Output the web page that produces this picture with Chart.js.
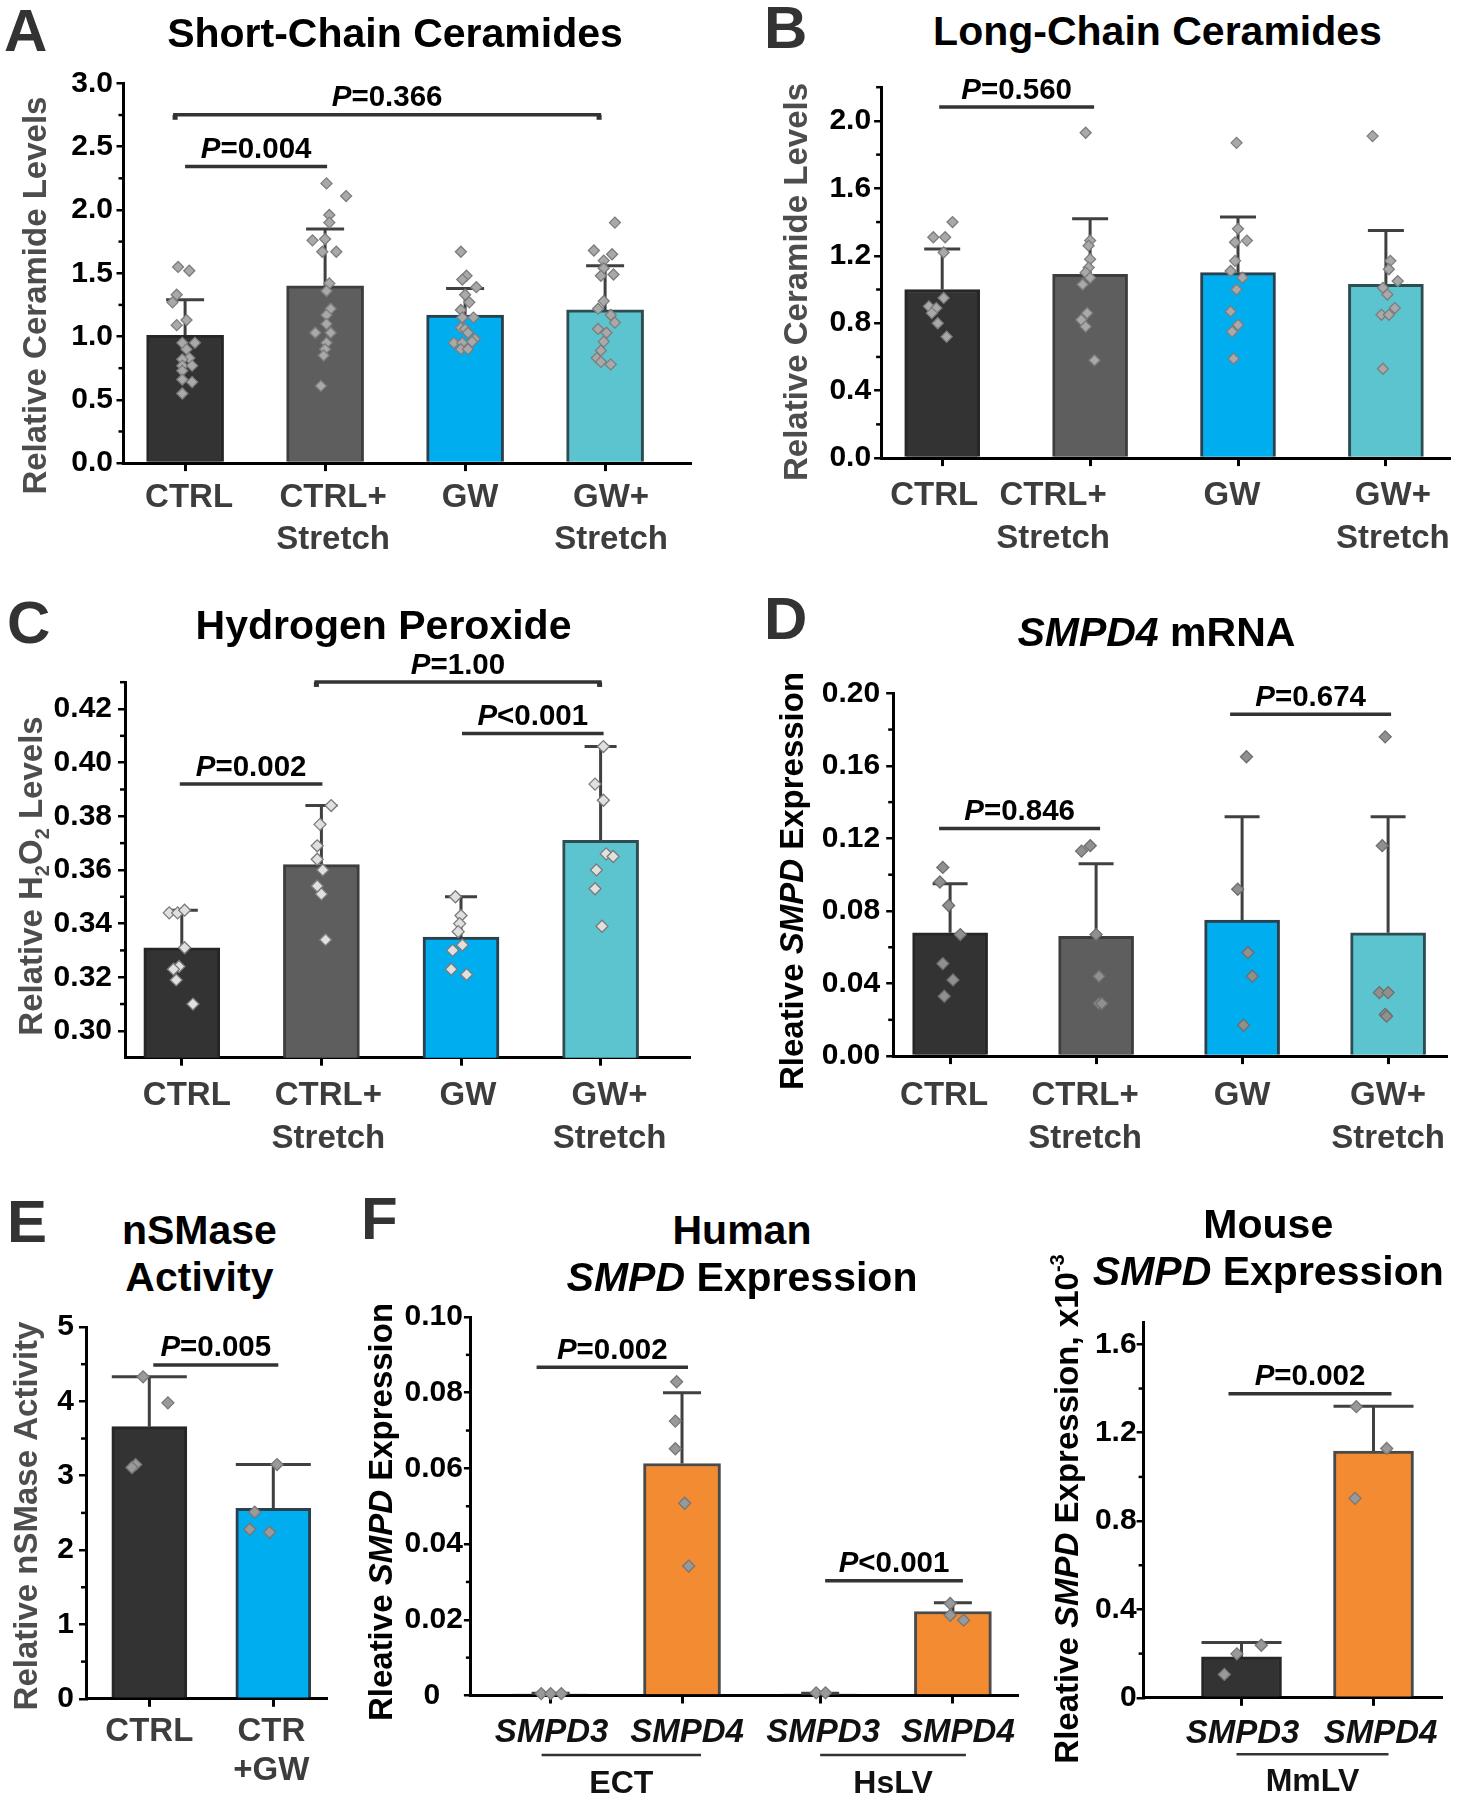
<!DOCTYPE html>
<html><head><meta charset="utf-8"><title>Ceramides, H2O2 and SMPD expression</title>
<script src="https://cdn.jsdelivr.net/npm/chart.js@4.4.1/dist/chart.umd.min.js"></script>
<style>
html,body{margin:0;padding:0;background:#fff;}
#page{position:relative;width:1462px;height:1800px;overflow:hidden;background:#fff;font-family:'Liberation Sans',Arial,Helvetica,sans-serif;}
#page canvas{position:absolute;}
.ttl{position:absolute;font-weight:bold;font-size:41px;line-height:41px;white-space:nowrap;color:#000;transform:translateX(-50%);}
.lett{position:absolute;font-weight:bold;font-size:60px;line-height:60px;color:#333;}
</style></head>
<body><div id="page"></div>
<script>
// ================= DATA =================
// Panel A - Short-chain ceramides
const catsA = [['CTRL'], ['CTRL+','Stretch'], ['GW'], ['GW+','Stretch']];
const meanA = [1.01, 1.40, 1.17, 1.21];
const errA  = [1.29, 1.85, 1.38, 1.56];
const ptsA = [
  [1.55,1.52,1.33,1.27,1.13,1.09,0.95,0.95,0.90,0.83,0.82,0.77,0.77,0.73,0.66,0.64,0.55],
  [2.21,2.11,1.96,1.90,1.76,1.77,1.67,1.67,1.42,1.36,1.22,1.17,1.10,1.03,1.03,0.95,0.90,0.85,0.61],
  [1.67,1.48,1.45,1.39,1.33,1.27,1.21,1.15,1.15,1.07,1.06,1.03,0.98,0.95,0.95,0.96,0.90,0.90],
  [1.90,1.68,1.65,1.60,1.54,1.49,1.48,1.28,1.22,1.17,1.11,1.06,1.03,0.96,0.89,0.83,0.80,0.78]
];
const jitA = [
  [-0.05,0.03,-0.06,-0.09,0.01,-0.06,-0.02,0.07,0.01,0.03,-0.02,-0.02,0.05,-0.02,-0.02,0.05,-0.02],
  [0.01,0.15,0.03,0.03,-0.09,0,-0.02,0.08,0.03,0.01,0.04,0.01,0.01,-0.07,0.04,0.01,0,-0.01,-0.03],
  [-0.03,0.01,-0.02,0.08,0,0.03,-0.03,0.06,-0.02,-0.03,0,0.02,0.07,-0.08,-0.02,0.05,-0.03,0.02],
  [0.07,-0.08,0.05,-0.01,-0.01,0.06,-0.03,-0.01,-0.05,0.04,0.07,-0.05,0.01,-0.01,-0.03,-0.06,-0.03,0.04]
];
const ticksA = [0,0.5,1,1.5,2,2.5,3];
const tickLabA = ['0.0','0.5','1.0','1.5','2.0','2.5','3.0'];
const pA = [{i:0,j:1,y:2.343,p:'=0.004'},{i:0,j:3,y:2.752,p:'=0.366',ends:true}];

// Panel B - Long-chain ceramides
const catsB = catsA;
const meanB = [1.00, 1.09, 1.10, 1.03];
const errB  = [1.24, 1.42, 1.43, 1.35];
const ptsB = [
  [1.40,1.31,1.31,1.22,0.95,0.90,0.89,0.86,0.80,0.72],
  [1.93,1.29,1.26,1.18,1.13,1.10,1.07,1.03,0.86,0.82,0.78,0.58],
  [1.87,1.36,1.28,1.29,1.17,1.11,1.07,1.00,0.87,0.79,0.75,0.59],
  [1.91,1.17,1.12,1.05,1.01,0.97,0.89,0.85,0.85,0.53]
];
const jitB = [
  [0.07,-0.06,0.02,0.01,0.01,-0.09,-0.04,-0.07,-0.03,0.03],
  [-0.03,0,-0.01,0,-0.01,-0.03,0,-0.05,-0.02,-0.06,-0.03,0.03],
  [-0.01,0,-0.02,0.06,-0.02,-0.05,0.03,-0.01,-0.05,0,-0.04,-0.03],
  [-0.09,0.03,0.02,0.08,-0.02,0.01,0.06,-0.03,0.02,-0.02]
];
const ticksB = [0,0.4,0.8,1.2,1.6,2.0];
const tickLabB = ['0.0','0.4','0.8','1.2','1.6','2.0'];
const pB = [{i:0,j:1,y:2.082,p:'=0.560'}];

// Panel C - Hydrogen peroxide
const catsC = catsA;
const meanC = [0.331, 0.362, 0.335, 0.371];
const errC  = [0.345, 0.384, 0.350, 0.406];
const ptsC = [
  [0.344,0.344,0.345,0.331,0.324,0.323,0.319,0.310],
  [0.384,0.377,0.369,0.364,0.360,0.354,0.351,0.334],
  [0.350,0.343,0.340,0.337,0.332,0.330,0.323,0.321],
  [0.406,0.392,0.386,0.366,0.365,0.360,0.353,0.339]
];
const jitC = [
  [-0.09,-0.03,0.02,0.02,-0.02,-0.06,-0.04,0.08],
  [0.07,-0.01,-0.03,-0.03,0.01,-0.03,0,0.03],
  [-0.04,0,-0.01,-0.02,0.01,-0.06,-0.07,0.04],
  [0.02,-0.04,0.02,0.04,0.09,-0.03,-0.04,0.01]
];
const ticksC = [0.30,0.32,0.34,0.36,0.38,0.40,0.42];
const tickLabC = ['0.30','0.32','0.34','0.36','0.38','0.40','0.42'];
const pC = [{i:0,j:1,y:0.392,p:'=0.002'},{i:1,j:3,y:0.4301,p:'=1.00',ends:true},{i:2,j:3,y:0.4109,p:'<0.001'}];

// Panel D - SMPD4 mRNA
const catsD = catsA;
const meanD = [0.068, 0.066, 0.075, 0.068];
const errD  = [0.095, 0.106, 0.132, 0.132];
const ptsD = [
  [0.104,0.096,0.083,0.067,0.051,0.042,0.033],
  [0.113,0.116,0.067,0.044,0.029,0.029],
  [0.165,0.092,0.057,0.044,0.017],
  [0.176,0.116,0.035,0.035,0.023,0.022]
];
const jitD = [
  [-0.05,-0.07,-0.01,0.07,-0.05,0.02,-0.04],
  [-0.10,-0.04,0,0.02,0.02,0.04],
  [0.03,-0.03,0.04,0.07,0.01],
  [-0.02,-0.04,-0.06,0,-0.02,-0.01]
];
const ticksD = [0,0.04,0.08,0.12,0.16,0.20];
const tickLabD = ['0.00','0.04','0.08','0.12','0.16','0.20'];
const pD = [{i:0,j:1,y:0.1255,p:'=0.846'},{i:2,j:3,y:0.1884,p:'=0.674'}];

// Panel E - nSMase activity
const catsE = [['CTRL'], ['CTR','+GW']];
const meanE = [3.66, 2.56];
const errE  = [4.33, 3.15];
const ptsE = [[4.33,3.98,3.15,3.11],[3.15,2.51,2.28,2.24]];
const jitE = [[-0.05,0.15,-0.11,-0.14],[0.03,-0.15,-0.19,-0.03]];
const ticksE = [0,1,2,3,4,5];
const tickLabE = ['0','1','2','3','4','5'];
const pE = [{i:0,j:1,y:4.49,p:'=0.005'}];

// Panel F - Human SMPD expression
const catsF = [['SMPD3'],['SMPD4'],['SMPD3'],['SMPD4']];
const groupsF = [{i:0,j:1,text:'ECT'},{i:2,j:3,text:'HsLV'}];
const meanF = [0.0004, 0.0613, 0.0004, 0.0222];
const errF  = [0.0006, 0.0800, 0.0006, 0.0245];
const ptsF = [[0.0005,0.0005,0.0005],[0.0829,0.0725,0.0652,0.0508,0.0342],[0.0007,0.0007],[0.0243,0.0212,0.0199]];
const jitF = [[-0.07,0,0.08],[-0.04,-0.05,-0.05,0.02,0.05],[-0.03,0.04],[-0.02,-0.02,0.08]];
const ticksF = [0,0.02,0.04,0.06,0.08,0.10];
const tickLabF = ['0\u2007\u2009','0.02','0.04','0.06','0.08','0.10'];
const pF = [{i:0,j:1,y:0.0867,p:'=0.002'},{i:2,j:3,y:0.0303,p:'<0.001'}];

// Panel F - Mouse SMPD expression (x10^-3)
const catsM = [['SMPD3'],['SMPD4']];
const groupsM = [{i:0,j:1,text:'MmLV'}];
const meanM = [0.185, 1.117];
const errM  = [0.25, 1.32];
const ptsM = [[0.106,0.199,0.238],[1.318,1.129,0.903]];
const jitM = [[-0.13,-0.035,0.15],[-0.13,0.10,-0.14]];
const ticksM = [0,0.4,0.8,1.2,1.6];
const tickLabM = ['0','0.4','0.8','1.2','1.6'];
const pM = [{i:0,j:1,y:1.376,p:'=0.002'}];

// ================= STYLE / LAYOUT =================
const FONT = "'Liberation Sans', Arial, Helvetica, sans-serif";
Chart.defaults.font.family = FONT;
const page = document.getElementById('page');
const C_CTRL='#333333', C_STR='#5e5e5e', C_GW='#00aeef', C_GWS='#5cc4ce', C_OR='#f28b32';
const B_CTRL='#262626', B_STR='#3d3d3d', B_GW='#2b3f4c', B_GWS='#2e4d52', B_OR='#4a4a4a';
const fourColors=[C_CTRL,C_STR,C_GW,C_GWS], fourBorders=[B_CTRL,B_STR,B_GW,B_GWS];

function segFont(s,size){const sz=(s.sub||s.sup)?Math.round(size*0.62):size;return (s.i?'italic ':'')+'bold '+sz+'px '+FONT;}
function richW(ctx,segs,size){let w=0;segs.forEach(s=>{ctx.font=segFont(s,size);w+=ctx.measureText(s.t).width;});return w;}
function drawRich(ctx,segs,x,y,size,color,align){
  const w=richW(ctx,segs,size);
  let cx=align==='left'?x:(align==='right'?x-w:x-w/2);
  ctx.fillStyle=color;ctx.textAlign='left';ctx.textBaseline='alphabetic';
  segs.forEach(s=>{ctx.font=segFont(s,size);const dy=s.sub?size*0.2:(s.sup?-size*0.42:0);ctx.fillText(s.t,cx,y+dy);cx+=ctx.measureText(s.t).width;});
}
function midMinor(t){const m=[];for(let k=0;k<t.length-1;k++)m.push((t[k]+t[k+1])/2);return m;}

function deco(p,minor){
  const L=p.box[0],T=p.box[1];
  return {
    id:'deco'+p.key,
    afterDatasetDraw(chart,args){
      if(args.meta.type!=='bar')return;
      const ctx=chart.ctx,ys=chart.scales.y;
      ctx.save();ctx.strokeStyle='#404040';ctx.lineWidth=3;
      args.meta.data.forEach((el,i)=>{
        const yt=ys.getPixelForValue(p.err[i]);
        ctx.beginPath();ctx.moveTo(el.x,el.y);ctx.lineTo(el.x,yt);
        ctx.moveTo(el.x-p.capW/2,yt);ctx.lineTo(el.x+p.capW/2,yt);ctx.stroke();
      });
      ctx.restore();
    },
    afterDraw(chart){
      const ctx=chart.ctx,xs=chart.scales.x,ys=chart.scales.y,ca=chart.chartArea;
      ctx.save();
      ctx.strokeStyle='#000';ctx.lineWidth=2.5;
      minor.forEach(v=>{const y=ys.getPixelForValue(v);ctx.beginPath();ctx.moveTo(ca.left,y);ctx.lineTo(ca.left-5,y);ctx.stroke();});
      p.brackets.forEach((b,k)=>{
        const off=p.brOff[k]||[0,0];
        const x0=xs.getPixelForValue(p.xpos[b.i])+off[0],x1=xs.getPixelForValue(p.xpos[b.j])+off[1],y=ys.getPixelForValue(b.y);
        ctx.strokeStyle='#333';ctx.lineWidth=3.5;ctx.beginPath();ctx.moveTo(x0,y);ctx.lineTo(x1,y);ctx.stroke();
        if(b.ends){ctx.fillStyle='#333';ctx.fillRect(x0-0.5,y,5,5);ctx.fillRect(x1-4.5,y,5,5);}
        drawRich(ctx,[{t:'P',i:true},{t:b.p}],(x0+x1)/2,y-p.pGap,29.5,'#000','center');
      });
      ctx.textAlign='center';ctx.textBaseline='alphabetic';
      p.cats.forEach((lines,i)=>{
        const x=xs.getPixelForValue(p.xpos[i])+p.labOff[i];
        lines.forEach((ln,k)=>{
          ctx.font=(p.labItalic?'italic ':'')+'bold '+p.labSize+'px '+FONT;
          ctx.fillStyle=p.labColor;ctx.textAlign='center';ctx.fillText(ln,x,ca.bottom+p.labDy+k*p.labLH);
        });
      });
      (p.groups||[]).forEach((g,k)=>{
        const off=p.grpOff[k];
        const x0=xs.getPixelForValue(p.xpos[g.i])+off[0],x1=xs.getPixelForValue(p.xpos[g.j])+off[1];
        const y=ca.bottom+p.grpLineDy;
        ctx.strokeStyle='#333';ctx.lineWidth=2.5;ctx.beginPath();ctx.moveTo(x0,y);ctx.lineTo(x1,y);ctx.stroke();
        ctx.font='bold 32px '+FONT;ctx.fillStyle='#111';ctx.textAlign='center';
        ctx.fillText(g.text,(x0+x1)/2,ca.bottom+p.grpTextDy);
      });
      ctx.translate(p.ytX-L,p.ytY-T);ctx.rotate(-Math.PI/2);
      drawRich(ctx,p.ytitle,0,0,33,p.ytColor,'center');
      ctx.restore();
    }
  };
}

function makePanel(p){
  const [L,T,W,H]=p.box,[ax0,ayT,ax1,ayB]=p.area;
  const cv=document.createElement('canvas');
  cv.width=W;cv.height=H;cv.style.left=L+'px';cv.style.top=T+'px';cv.style.width=W+'px';cv.style.height=H+'px';
  page.appendChild(cv);
  const xmin=(ax0-p.x0px)/p.unit,xmax=(ax1-p.x0px)/p.unit;
  const bars=p.mean.map((v,i)=>({x:p.xpos[i],y:v}));
  const pts=[];p.pts.forEach((arr,i)=>arr.forEach((v,k)=>pts.push({x:p.xpos[i]+p.jit[i][k],y:v})));
  const minor=midMinor(p.yticks).concat(p.minorExtra||[]);
  new Chart(cv,{
    type:'bar',
    data:{datasets:[
      {type:'bar',data:bars,backgroundColor:p.colors,borderColor:p.borders,borderWidth:3,borderSkipped:'start',barThickness:p.barW,order:2},
      {type:'scatter',data:pts,pointStyle:'rectRot',pointRadius:p.ptR,pointHoverRadius:p.ptR,pointBackgroundColor:p.ptFill,pointBorderColor:p.ptBorder,pointBorderWidth:1.3,order:1,clip:false}
    ]},
    options:{
      responsive:false,animation:false,events:[],
      layout:{padding:{left:0,right:L+W-ax1,top:ayT-T,bottom:0}},
      plugins:{legend:{display:false},tooltip:{enabled:false}},
      scales:{
        x:{type:'linear',position:'bottom',offset:false,min:xmin,max:xmax,
           afterBuildTicks:s=>{s.ticks=p.xpos.map(v=>({value:v}));},
           afterFit:s=>{s.height=T+H-ayB;},
           ticks:{display:false},
           grid:{offset:false,drawOnChartArea:false,drawTicks:true,tickLength:8,color:'#000',lineWidth:3},
           border:{display:true,color:'#000',width:3}},
        y:{type:'linear',position:'left',offset:false,min:p.ymin,max:p.ymax,
           afterBuildTicks:s=>{s.ticks=p.yticks.map(v=>({value:v}));},
           afterFit:s=>{s.width=ax0-L;},
           ticks:{autoSkip:false,padding:p.tickPad,color:'#000',font:{size:30,weight:'bold'},callback:(v,i)=>p.ylabels[i]},
           grid:{drawOnChartArea:false,drawTicks:true,tickLength:7,color:'#000',lineWidth:2.5},
           border:{display:true,color:'#000',width:3}}
      }
    },
    plugins:[deco(p,minor)]
  });
}

const x4=[0,1,2,3];
const panels=[
 {key:'A',box:[0,55,720,525],area:[123.5,83.4,690,463.1],x0px:185.1,unit:140,xpos:x4,
  ymin:0,ymax:3,yticks:ticksA,ylabels:tickLabA,cats:catsA,mean:meanA,err:errA,pts:ptsA,jit:jitA,
  colors:fourColors,borders:fourBorders,barW:77,capW:38,ptR:5.5,ptFill:'#a9a9a9',ptBorder:'#7d7d7d',
  brackets:pA,brOff:[[0,2],[-12,-4]],pGap:8.5,tickPad:3.5,
  labOff:[4,8,5,6],labDy:43.9,labLH:42.2,labSize:33,labColor:'#3d3d3d',
  ytitle:[{t:'Relative Ceramide Levels'}],ytX:46,ytY:295.6,ytColor:'#4d4d4d'},
 {key:'B',box:[731,55,731,525],area:[881.1,87.2,1449,458.1],x0px:942.2,unit:147.9,xpos:x4,
  ymin:0,ymax:2.2,yticks:ticksB,ylabels:tickLabB,minorExtra:[2.2],cats:catsB,mean:meanB,err:errB,pts:ptsB,jit:jitB,
  colors:fourColors,borders:fourBorders,barW:75,capW:36,ptR:5.5,ptFill:'#a9a9a9',ptBorder:'#7d7d7d',
  brackets:pB,brOff:[[-3,4]],pGap:8.5,tickPad:3,
  labOff:[-8,-37,-6,7],labDy:47.1,labLH:42.8,labSize:33,labColor:'#3d3d3d',
  ytitle:[{t:'Relative Ceramide Levels'}],ytX:807,ytY:282,ytColor:'#4d4d4d'},
 {key:'C',box:[0,645,720,535],area:[125,682.2,689,1057.7],x0px:181.8,unit:139.6,xpos:x4,
  ymin:0.29,ymax:0.43,yticks:ticksC,ylabels:tickLabC,minorExtra:[0.43],cats:catsC,mean:meanC,err:errC,pts:ptsC,jit:jitC,
  colors:fourColors,borders:fourBorders,barW:76,capW:32,ptR:6,ptFill:'#e0e0e0',ptBorder:'#7a7a7a',
  brackets:pC,brOff:[[-2,1],[-7,1],[1,3]],pGap:8,tickPad:6,
  labOff:[5,7,7,9],labDy:47,labLH:43.3,labSize:33,labColor:'#3d3d3d',
  ytitle:[{t:'Relative H'},{t:'2',sub:true},{t:'O'},{t:'2',sub:true},{t:' Levels'}],ytX:42,ytY:876,ytColor:'#4d4d4d'},
 {key:'D',box:[731,645,731,535],area:[893.2,693.3,1446.6,1056.1],x0px:950.1,unit:146,xpos:x4,
  ymin:0,ymax:0.20,yticks:ticksD,ylabels:tickLabD,cats:catsD,mean:meanD,err:errD,pts:ptsD,jit:jitD,
  colors:fourColors,borders:fourBorders,barW:75,capW:35,ptR:6,ptFill:'#909090',ptBorder:'#6e6e6e',
  brackets:pD,brOff:[[-11,4],[-12,3]],pGap:8.5,tickPad:6,
  labOff:[-6,-11,0,0],labDy:48.6,labLH:43.3,labSize:33,labColor:'#3d3d3d',
  ytitle:[{t:'Rleative '},{t:'SMPD',i:true},{t:' Expression'}],ytX:803,ytY:881,ytColor:'#000'},
 {key:'E',box:[0,1300,350,500],area:[86,1327,326.5,1698.8],x0px:149.3,unit:124,xpos:[0,1],
  ymin:0,ymax:5,yticks:ticksE,ylabels:tickLabE,cats:catsE,mean:meanE,err:errE,pts:ptsE,jit:jitE,
  colors:[C_CTRL,C_GW],borders:[B_CTRL,B_GW],barW:75,capW:75,ptR:6,ptFill:'#9a9a9a',ptBorder:'#777',
  brackets:pE,brOff:[[4,5]],pGap:8.5,tickPad:5,
  labOff:[0,-2],labDy:41.7,labLH:39.5,labSize:33,labColor:'#3d3d3d',
  ytitle:[{t:'Relative nSMase Activity'}],ytX:37,ytY:1516,ytColor:'#4d4d4d'},
 {key:'F',box:[350,1290,680,510],area:[470.9,1317,1017.7,1695.5],x0px:550.6,unit:134.1,xpos:[0,0.98,2.01,3],
  ymin:0,ymax:0.10,yticks:ticksF,ylabels:tickLabF,cats:catsF,groups:groupsF,grpOff:[[-9,19],[0,13]],
  mean:meanF,err:errF,pts:ptsF,jit:jitF,
  colors:[C_CTRL,C_OR,C_CTRL,C_OR],borders:[B_CTRL,B_OR,B_CTRL,B_OR],barW:77,capW:38,ptR:6,ptFill:'#999',ptBorder:'#777',
  brackets:pF,brOff:[[-14,6],[5,10]],pGap:8.5,tickPad:1,
  labOff:[1,5,3,5],labDy:46.2,labLH:40,labSize:33,labColor:'#111',labItalic:true,grpLineDy:59.5,grpTextDy:97.2,
  ytitle:[{t:'Rleative '},{t:'SMPD',i:true},{t:' Expression'}],ytX:392,ytY:1512,ytColor:'#000'},
 {key:'M',box:[1030,1230,432,570],area:[1143.6,1322.3,1441.9,1697.8],x0px:1241.5,unit:132,xpos:[0,1],
  ymin:0,ymax:1.7,yticks:ticksM,ylabels:tickLabM,cats:catsM,groups:groupsM,grpOff:[[-5,15]],
  mean:meanM,err:errM,pts:ptsM,jit:jitM,
  colors:[C_CTRL,C_OR],borders:[B_CTRL,B_OR],barW:80,capW:80,ptR:6,ptFill:'#999',ptBorder:'#777',
  brackets:pM,brOff:[[-13,18]],pGap:8.5,tickPad:0,
  labOff:[1,7],labDy:44.7,labLH:40,labSize:33,labColor:'#111',labItalic:true,grpLineDy:56.4,grpTextDy:93.4,
  ytitle:[{t:'Rleative '},{t:'SMPD',i:true},{t:' Expression, x10'},{t:'-3',sup:true}],ytX:1078,ytY:1509,ytColor:'#000'}
];
panels.forEach(makePanel);

const titles=[
 ['Short-Chain Ceramides',395,47.8],['Long-Chain Ceramides',1157.5,46],
 ['Hydrogen Peroxide',383.5,639.8],['<i>SMPD4</i> mRNA',1156.4,646.6],
 ['nSMase',199.4,1244.5],['Activity',199.4,1291.5],
 ['Human',742,1244.5],['<i>SMPD</i> Expression',742,1291.5],
 ['Mouse',1268.3,1239],['<i>SMPD</i> Expression',1268.3,1286]
];
titles.forEach(([h,cx,base])=>{const d=document.createElement('div');d.className='ttl';d.innerHTML=h;d.style.left=cx+'px';d.style.top=(base-0.8465*41)+'px';page.appendChild(d);});
const letters=[['A',4,51.7],['B',764,49],['C',7,643.6],['D',764,639.8],['E',7,1242.5],['F',361,1239.8]];
letters.forEach(([t,x,base])=>{const d=document.createElement('div');d.className='lett';d.textContent=t;d.style.left=x+'px';d.style.top=(base-0.8465*60)+'px';page.appendChild(d);});
</script>
</body></html>
